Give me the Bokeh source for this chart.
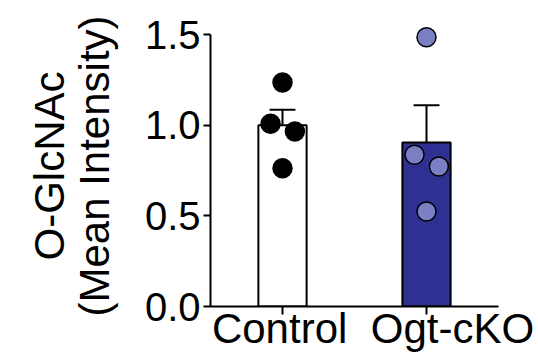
from bokeh.plotting import figure
from bokeh.models import Range1d, FixedTicker, NumeralTickFormatter, LinearAxis
from bokeh.embed import file_html
from bokeh.resources import INLINE

# ---- data ----
groups = ["Control", "Ogt-cKO"]
means = [1.00, 0.905]
sem = [0.085, 0.205]
control_pts = [1.235, 1.008, 0.965, 0.763]
cko_pts = [1.485, 0.837, 0.772, 0.524]
y_ticks = [0.0, 0.5, 1.0, 1.5]
y_label = "O-GlcNAc\n(Mean Intensity)"

FONT = "Liberation Sans"
bar_fill = ["#ffffff", "#2e3192"]
pt_fill = ["#000000", "#7b7fc4"]

p = figure(width=538, height=355, output_backend="svg", toolbar_location=None,
           x_range=Range1d(0, 2), y_range=Range1d(0, 1.55),
           min_border_left=210, min_border_right=40, min_border_top=25, min_border_bottom=49)
p.outline_line_color = None
p.grid.visible = False
p.background_fill_color = "white"
p.border_fill_color = "white"

xc = [i + 0.5 for i in range(len(groups))]
p.vbar(x=xc, top=means, width=0.335, fill_color=bar_fill, line_color="black", line_width=2)

# error bars (upper only)
up = [m + s for m, s in zip(means, sem)]
p.segment(x0=xc, y0=means, x1=xc, y1=up, line_color="black", line_width=2)
cap = 0.09
p.segment(x0=[x - cap for x in xc], y0=up, x1=[x + cap for x in xc], y1=up, line_color="black", line_width=2)

# individual points with small horizontal spread
spread = [0.0, -0.083, 0.086, 0.0]
for gi, pts in enumerate([control_pts, cko_pts]):
    xs = [xc[gi] + spread[k] for k in range(len(pts))]
    p.scatter(x=xs, y=pts, size=19, fill_color=pt_fill[gi], line_color="black", line_width=1.5)

# y axis
yax = p.yaxis[0]
yax.ticker = FixedTicker(ticks=y_ticks)
yax.formatter = NumeralTickFormatter(format="0.0")
yax.bounds = (0, 1.5)
yax.minor_tick_line_color = None
yax.major_tick_in = 0
yax.major_tick_out = 7
yax.major_tick_line_width = 2
yax.axis_line_width = 2
yax.major_label_text_font = FONT
yax.major_label_text_font_size = "40px"
yax.major_label_text_color = "black"
yax.major_label_standoff = 3
yax.axis_label = y_label
yax.axis_label_text_font = FONT
yax.axis_label_text_font_size = "42px"
yax.axis_label_text_font_style = "normal"
yax.axis_label_text_color = "black"
yax.axis_label_text_line_height = 0.95
yax.axis_label_standoff = 24

# x axis: line and ticks at bar centres
xax = p.xaxis[0]
xax.ticker = FixedTicker(ticks=xc)
xax.major_label_overrides = {x: "" for x in xc}
xax.major_label_text_font_size = "1px"
xax.major_label_standoff = 0
xax.minor_tick_line_color = None
xax.major_tick_in = 0
xax.major_tick_out = 8
xax.major_tick_line_width = 2
xax.axis_line_width = 2

# second axis carrying the category names (slightly shifted positions)
label_shift = [-0.02, 0.18]
label_pos = [xc[i] + label_shift[i] for i in range(len(groups))]
lax = LinearAxis(ticker=FixedTicker(ticks=label_pos),
                 major_label_overrides={label_pos[i]: g for i, g in enumerate(groups)},
                 axis_line_color=None, major_tick_line_color=None, minor_tick_line_color=None,
                 major_label_text_font=FONT, major_label_text_font_size="42px",
                 major_label_text_color="black", major_label_standoff=-16)
p.add_layout(lax, "below")

open("out.html", "w").write(file_html(p, INLINE))
